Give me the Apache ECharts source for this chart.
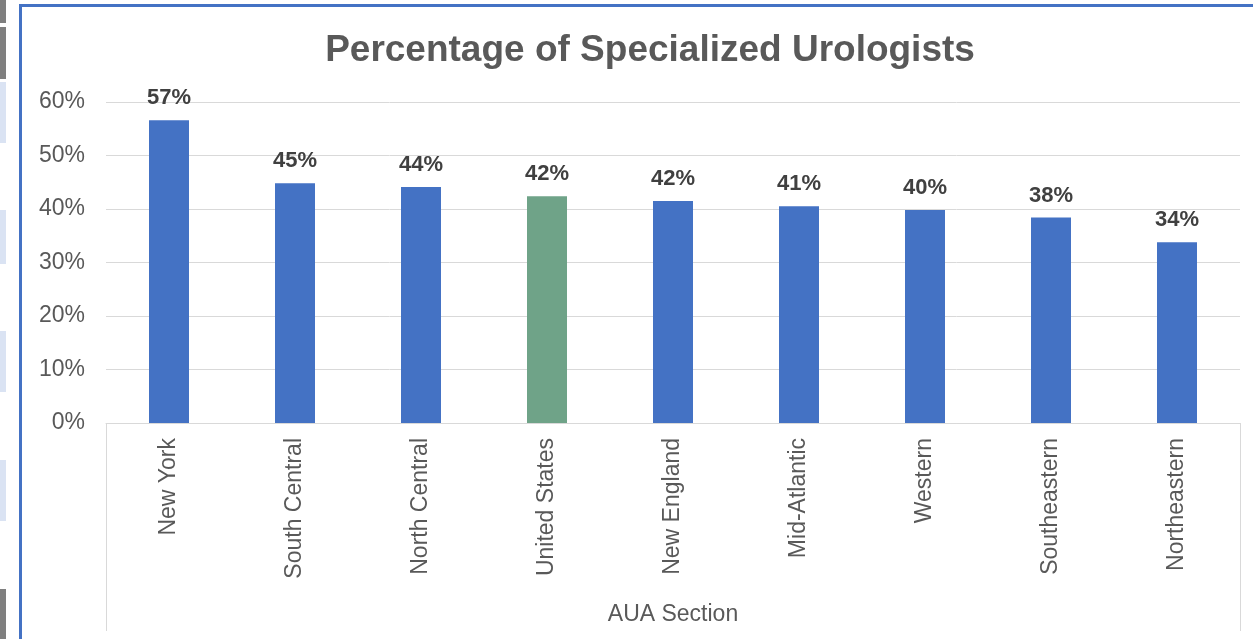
<!DOCTYPE html>
<html>
<head>
<meta charset="utf-8">
<script src="https://cdn.jsdelivr.net/npm/echarts@6/dist/echarts.min.js"></script>
<style>
  html, body { margin: 0; padding: 0; background: #fff; }
  #chart { width: 1253px; height: 639px; }
</style>
</head>
<body>
<div id="chart"></div>
<script>
const sections = ['New York', 'South Central', 'North Central', 'United States', 'New England', 'Mid-Atlantic', 'Western', 'Southeastern', 'Northeastern'];
const percents = [56.6, 44.8, 44.1, 42.4, 41.5, 40.5, 39.8, 38.4, 33.8];
const highlight = 'United States';

const textColor = '#595959';
const barBlue = '#4472c4';
const barGreen = '#6fa388';

const chart = echarts.init(document.getElementById('chart'));

// left sidebar strip (outside the chart frame)
const strip = [
  { y: 0, h: 23, c: '#7f7f7f' },
  { y: 27, h: 52, c: '#7f7f7f' },
  { y: 82, h: 61, c: '#dae3f3' },
  { y: 210, h: 54, c: '#dae3f3' },
  { y: 331, h: 61, c: '#dae3f3' },
  { y: 460, h: 61, c: '#dae3f3' },
  { y: 589, h: 50, c: '#7f7f7f' }
];

const option = {
  animation: false,
  textStyle: { fontFamily: 'Liberation Sans, Arial, sans-serif' },
  title: {
    text: 'Percentage of Specialized Urologists',
    left: 645,
    textAlign: 'center',
    top: 27,
    textStyle: { fontSize: 37, fontWeight: 'bold', color: textColor }
  },
  graphic: strip.map(s => ({
    type: 'rect',
    shape: { x: 0, y: s.y, width: 6, height: s.h },
    style: { fill: s.c },
    silent: true
  })).concat([
    { type: 'rect', shape: { x: 19, y: 4, width: 3, height: 635 }, style: { fill: barBlue }, silent: true },
    { type: 'rect', shape: { x: 19, y: 4, width: 1234, height: 3 }, style: { fill: barBlue }, silent: true }
  ]),
  grid: { left: 106, right: 13, top: 102, bottom: 216 },
  xAxis: {
    type: 'category',
    data: sections,
    name: 'AUA Section',
    nameLocation: 'middle',
    nameGap: 180,
    nameTextStyle: { fontSize: 23, color: textColor },
    axisLine: { lineStyle: { color: '#d9d9d9', width: 1 } },
    axisTick: {
      show: true,
      length: 208,
      interval: (i) => i === 0,
      lineStyle: { color: '#d9d9d9', width: 1 }
    },
    axisLabel: { rotate: 90, interval: 0, margin: 15, fontSize: 23, color: textColor }
  },
  yAxis: {
    type: 'value',
    min: 0,
    max: 60,
    interval: 10,
    axisLine: { show: false },
    axisTick: { show: false },
    axisLabel: { formatter: '{value}%', fontSize: 23, color: textColor, margin: 21, padding: [7, 0, 0, 0] },
    splitLine: { lineStyle: { color: '#d9d9d9', width: 1 } }
  },
  series: [{
    type: 'bar',
    barWidth: 40,
    data: sections.map((s, i) => ({
      value: percents[i],
      itemStyle: { color: s === highlight ? barGreen : barBlue }
    })),
    label: {
      show: true,
      position: 'top',
      distance: 11,
      formatter: (p) => Math.round(p.value) + '%',
      fontSize: 22,
      fontWeight: 'bold',
      color: '#404040'
    }
  }]
};

chart.setOption(option);
</script>
</body>
</html>
